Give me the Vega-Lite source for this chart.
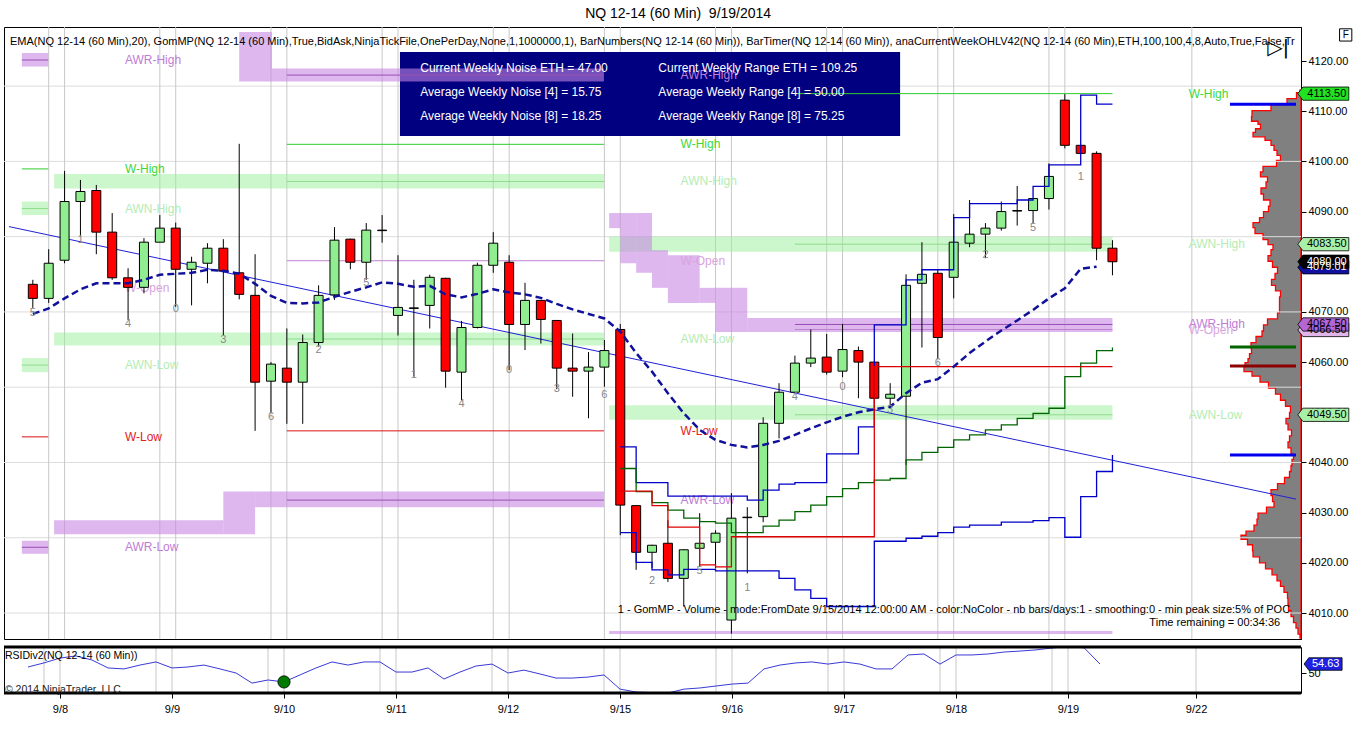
{
  "$schema": "https://vega.github.io/schema/vega-lite/v6.json",
  "background": "white",
  "padding": {"left": 2, "top": 7, "right": 0, "bottom": 0},
  "bounds": "flush",
  "spacing": 8,
  "title": {"text": "NQ 12-14 (60 Min)\u00a0 9/19/2014", "fontSize": 14, "fontWeight": "normal", "color": "black", "offset": 5, "anchor": "middle"},
  "config": {
    "font": "Liberation Sans",
    "view": {"stroke": "black", "strokeWidth": 1}
  },
  "datasets": {
    "bars": [
      {"i": 0, "o": 4075.5, "h": 4076.4, "l": 4070.8, "c": 4072.7},
      {"i": 1, "o": 4072.7, "h": 4082.5, "l": 4071.8, "c": 4079.7},
      {"i": 2, "o": 4080.3, "h": 4098.1, "l": 4079.7, "c": 4092.0},
      {"i": 3, "o": 4092.0, "h": 4096.3, "l": 4085.0, "c": 4094.0},
      {"i": 4, "o": 4094.2, "h": 4095.3, "l": 4081.5, "c": 4085.9},
      {"i": 5, "o": 4085.9, "h": 4089.7, "l": 4076.4, "c": 4076.8},
      {"i": 6, "o": 4076.8, "h": 4078.7, "l": 4068.4, "c": 4074.9},
      {"i": 7, "o": 4074.9, "h": 4084.7, "l": 4073.7, "c": 4083.9},
      {"i": 8, "o": 4083.9, "h": 4089.3, "l": 4083.9, "c": 4086.7},
      {"i": 9, "o": 4086.7, "h": 4087.8, "l": 4071.0, "c": 4078.5},
      {"i": 10, "o": 4078.5, "h": 4081.0, "l": 4071.3, "c": 4079.9},
      {"i": 11, "o": 4079.7, "h": 4083.7, "l": 4075.7, "c": 4082.7},
      {"i": 12, "o": 4082.7, "h": 4084.5, "l": 4065.4, "c": 4078.2},
      {"i": 13, "o": 4077.8, "h": 4103.5, "l": 4072.5, "c": 4073.5},
      {"i": 14, "o": 4073.3, "h": 4081.5, "l": 4046.3, "c": 4056.0},
      {"i": 15, "o": 4056.2, "h": 4060.0, "l": 4049.8, "c": 4059.6},
      {"i": 16, "o": 4058.8, "h": 4066.7, "l": 4047.7, "c": 4056.0},
      {"i": 17, "o": 4056.0, "h": 4065.5, "l": 4047.7, "c": 4063.9},
      {"i": 18, "o": 4063.9, "h": 4075.3, "l": 4063.1, "c": 4073.3},
      {"i": 19, "o": 4073.4, "h": 4086.9, "l": 4072.4, "c": 4084.3},
      {"i": 20, "o": 4084.5, "h": 4084.6, "l": 4078.5, "c": 4079.9},
      {"i": 21, "o": 4079.9, "h": 4087.7, "l": 4076.4, "c": 4086.3},
      {"i": 22, "o": 4086.3, "h": 4089.3, "l": 4083.8, "c": 4086.2},
      {"i": 23, "o": 4069.3, "h": 4081.3, "l": 4065.3, "c": 4070.9},
      {"i": 24, "o": 4070.8, "h": 4076.4, "l": 4057.1, "c": 4070.7},
      {"i": 25, "o": 4071.3, "h": 4077.4, "l": 4066.7, "c": 4076.9},
      {"i": 26, "o": 4076.7, "h": 4076.8, "l": 4054.9, "c": 4058.2},
      {"i": 27, "o": 4058.0, "h": 4068.2, "l": 4052.4, "c": 4066.9},
      {"i": 28, "o": 4066.9, "h": 4079.8, "l": 4066.7, "c": 4079.3},
      {"i": 29, "o": 4079.3, "h": 4085.9, "l": 4077.8, "c": 4083.7},
      {"i": 30, "o": 4079.9, "h": 4081.3, "l": 4058.4, "c": 4067.5},
      {"i": 31, "o": 4067.5, "h": 4075.8, "l": 4062.4, "c": 4072.3},
      {"i": 32, "o": 4072.3, "h": 4072.4, "l": 4063.7, "c": 4068.5},
      {"i": 33, "o": 4068.3, "h": 4068.4, "l": 4054.6, "c": 4058.8},
      {"i": 34, "o": 4058.8, "h": 4065.7, "l": 4053.1, "c": 4058.2},
      {"i": 35, "o": 4058.2, "h": 4062.0, "l": 4048.8, "c": 4059.0},
      {"i": 36, "o": 4059.0, "h": 4064.4, "l": 4055.1, "c": 4062.3},
      {"i": 37, "o": 4066.5, "h": 4067.6, "l": 4025.5, "c": 4031.5},
      {"i": 38, "o": 4031.4, "h": 4031.5, "l": 4018.6, "c": 4022.1},
      {"i": 39, "o": 4022.1, "h": 4023.6, "l": 4019.0, "c": 4023.5},
      {"i": 40, "o": 4023.9, "h": 4028.5, "l": 4016.2, "c": 4016.9},
      {"i": 41, "o": 4016.9, "h": 4022.7, "l": 4011.3, "c": 4022.6},
      {"i": 42, "o": 4022.9, "h": 4029.9, "l": 4019.2, "c": 4023.9},
      {"i": 43, "o": 4024.1, "h": 4026.5, "l": 4018.9, "c": 4025.9},
      {"i": 44, "o": 4008.6, "h": 4033.9, "l": 4005.9, "c": 4028.9},
      {"i": 45, "o": 4029.1, "h": 4031.1, "l": 4017.9, "c": 4029.0},
      {"i": 46, "o": 4029.2, "h": 4049.0, "l": 4028.1, "c": 4047.8},
      {"i": 47, "o": 4047.8, "h": 4055.8, "l": 4044.8, "c": 4054.0},
      {"i": 48, "o": 4054.0, "h": 4061.3, "l": 4054.0, "c": 4059.8},
      {"i": 49, "o": 4059.8, "h": 4066.5, "l": 4059.0, "c": 4060.8},
      {"i": 50, "o": 4061.0, "h": 4065.6, "l": 4057.5, "c": 4058.0},
      {"i": 51, "o": 4058.2, "h": 4067.6, "l": 4057.0, "c": 4062.5},
      {"i": 52, "o": 4062.3, "h": 4063.1, "l": 4052.8, "c": 4060.0},
      {"i": 53, "o": 4060.0, "h": 4060.1, "l": 4052.7, "c": 4052.8},
      {"i": 54, "o": 4052.8, "h": 4055.8, "l": 4050.8, "c": 4053.6},
      {"i": 55, "o": 4053.2, "h": 4077.5, "l": 4039.5, "c": 4075.3},
      {"i": 56, "o": 4075.7, "h": 4083.9, "l": 4062.9, "c": 4077.5},
      {"i": 57, "o": 4077.7, "h": 4078.5, "l": 4060.6, "c": 4064.9},
      {"i": 58, "o": 4076.9, "h": 4089.5, "l": 4072.7, "c": 4083.9},
      {"i": 59, "o": 4083.7, "h": 4092.3, "l": 4082.9, "c": 4085.5},
      {"i": 60, "o": 4085.5, "h": 4087.7, "l": 4080.7, "c": 4086.7},
      {"i": 61, "o": 4086.7, "h": 4092.0, "l": 4086.2, "c": 4090.0},
      {"i": 62, "o": 4090.2, "h": 4095.1, "l": 4087.2, "c": 4090.1},
      {"i": 63, "o": 4090.2, "h": 4092.7, "l": 4087.7, "c": 4092.6},
      {"i": 64, "o": 4092.6, "h": 4099.6, "l": 4090.4, "c": 4097.0},
      {"i": 65, "o": 4112.2, "h": 4113.4, "l": 4102.6, "c": 4103.2},
      {"i": 66, "o": 4103.2, "h": 4103.3, "l": 4101.5, "c": 4101.6},
      {"i": 67, "o": 4101.6, "h": 4102.0, "l": 4080.3, "c": 4082.7},
      {"i": 68, "o": 4082.7, "h": 4084.3, "l": 4077.3, "c": 4080.0}
    ],
    "ema": [
      {"i": 0, "v": 4069.6}, {"i": 1, "v": 4070.7}, {"i": 2, "v": 4072.7}, {"i": 3, "v": 4074.5},
      {"i": 4, "v": 4075.7}, {"i": 5, "v": 4075.7}, {"i": 6, "v": 4075.7}, {"i": 7, "v": 4076.4},
      {"i": 8, "v": 4077.4}, {"i": 9, "v": 4077.6}, {"i": 10, "v": 4077.8}, {"i": 11, "v": 4078.4},
      {"i": 12, "v": 4078.2}, {"i": 13, "v": 4077.6}, {"i": 14, "v": 4075.6}, {"i": 15, "v": 4073.2},
      {"i": 16, "v": 4071.8}, {"i": 17, "v": 4071.7}, {"i": 18, "v": 4071.9}, {"i": 19, "v": 4073.0},
      {"i": 20, "v": 4074.0}, {"i": 21, "v": 4074.9}, {"i": 22, "v": 4075.9}, {"i": 23, "v": 4075.6},
      {"i": 24, "v": 4075.0}, {"i": 25, "v": 4075.2}, {"i": 26, "v": 4073.5}, {"i": 27, "v": 4072.9},
      {"i": 28, "v": 4073.6}, {"i": 29, "v": 4074.5}, {"i": 30, "v": 4073.9}, {"i": 31, "v": 4073.5},
      {"i": 32, "v": 4072.8}, {"i": 33, "v": 4071.6}, {"i": 34, "v": 4070.5}, {"i": 35, "v": 4069.6},
      {"i": 36, "v": 4068.7}, {"i": 37, "v": 4066.1}, {"i": 38, "v": 4061.8}, {"i": 39, "v": 4058.1},
      {"i": 40, "v": 4053.8}, {"i": 41, "v": 4049.8}, {"i": 42, "v": 4046.5}, {"i": 43, "v": 4044.5},
      {"i": 44, "v": 4043.5}, {"i": 45, "v": 4043.0}, {"i": 46, "v": 4043.5}, {"i": 47, "v": 4044.3},
      {"i": 48, "v": 4045.5}, {"i": 49, "v": 4046.8}, {"i": 50, "v": 4048.0}, {"i": 51, "v": 4049.1},
      {"i": 52, "v": 4050.0}, {"i": 53, "v": 4050.6}, {"i": 54, "v": 4051.1}, {"i": 55, "v": 4053.8},
      {"i": 56, "v": 4055.9}, {"i": 57, "v": 4056.6}, {"i": 58, "v": 4059.1}, {"i": 59, "v": 4061.8},
      {"i": 60, "v": 4064.1}, {"i": 61, "v": 4066.3}, {"i": 62, "v": 4068.3}, {"i": 63, "v": 4070.4},
      {"i": 64, "v": 4072.7}, {"i": 65, "v": 4074.7}, {"i": 66, "v": 4078.6}, {"i": 67, "v": 4079.0}
    ],
    "rsi": [
      {"i": 0, "v": 53.1}, {"i": 1, "v": 55.2}, {"i": 2, "v": 57.7}, {"i": 3, "v": 58.8},
      {"i": 4, "v": 56.7}, {"i": 5, "v": 52.6}, {"i": 6, "v": 52.1}, {"i": 7, "v": 54.1},
      {"i": 8, "v": 55.7}, {"i": 9, "v": 52.6}, {"i": 10, "v": 53.1}, {"i": 11, "v": 54.1},
      {"i": 12, "v": 52.1}, {"i": 13, "v": 50.0}, {"i": 14, "v": 44.8}, {"i": 15, "v": 46.4},
      {"i": 16, "v": 45.4}, {"i": 17, "v": 49.0}, {"i": 18, "v": 52.6}, {"i": 19, "v": 55.7},
      {"i": 20, "v": 54.1}, {"i": 21, "v": 55.7}, {"i": 22, "v": 55.7}, {"i": 23, "v": 50.5},
      {"i": 24, "v": 50.5}, {"i": 25, "v": 52.6}, {"i": 26, "v": 46.9}, {"i": 27, "v": 50.5},
      {"i": 28, "v": 53.6}, {"i": 29, "v": 54.6}, {"i": 30, "v": 50.0}, {"i": 31, "v": 51.5},
      {"i": 32, "v": 49.5}, {"i": 33, "v": 47.4}, {"i": 34, "v": 47.4}, {"i": 35, "v": 47.9},
      {"i": 36, "v": 49.0}, {"i": 37, "v": 41.7}, {"i": 38, "v": 40.2}, {"i": 39, "v": 39.9},
      {"i": 40, "v": 39.7}, {"i": 41, "v": 41.7}, {"i": 42, "v": 42.3}, {"i": 43, "v": 43.3},
      {"i": 44, "v": 44.3}, {"i": 45, "v": 44.8}, {"i": 46, "v": 52.1}, {"i": 47, "v": 54.1},
      {"i": 48, "v": 55.2}, {"i": 49, "v": 55.7}, {"i": 50, "v": 54.6}, {"i": 51, "v": 55.7},
      {"i": 52, "v": 54.6}, {"i": 53, "v": 52.1}, {"i": 54, "v": 52.1}, {"i": 55, "v": 59.3},
      {"i": 56, "v": 59.8}, {"i": 57, "v": 54.6}, {"i": 58, "v": 59.3}, {"i": 59, "v": 59.3},
      {"i": 60, "v": 59.8}, {"i": 61, "v": 60.8}, {"i": 62, "v": 61.3}, {"i": 63, "v": 61.9},
      {"i": 64, "v": 62.9}, {"i": 65, "v": 63.6}, {"i": 66, "v": 63.0}, {"i": 67, "v": 54.63}
    ],
    "steps": [
      {"s": "upper", "i": 37, "v": 4043.1}, {"s": "upper", "i": 38, "v": 4036.0}, {"s": "upper", "i": 39, "v": 4036.0},
      {"s": "upper", "i": 40, "v": 4033.3}, {"s": "upper", "i": 41, "v": 4033.3}, {"s": "upper", "i": 42, "v": 4033.3},
      {"s": "upper", "i": 43, "v": 4033.3}, {"s": "upper", "i": 44, "v": 4033.3}, {"s": "upper", "i": 45, "v": 4032.5},
      {"s": "upper", "i": 46, "v": 4034.5}, {"s": "upper", "i": 47, "v": 4035.7}, {"s": "upper", "i": 48, "v": 4036.0},
      {"s": "upper", "i": 49, "v": 4036.0}, {"s": "upper", "i": 50, "v": 4041.7}, {"s": "upper", "i": 51, "v": 4041.7},
      {"s": "upper", "i": 52, "v": 4047.1}, {"s": "upper", "i": 53, "v": 4067.4}, {"s": "upper", "i": 54, "v": 4067.4},
      {"s": "upper", "i": 55, "v": 4076.4}, {"s": "upper", "i": 56, "v": 4078.4}, {"s": "upper", "i": 57, "v": 4078.4},
      {"s": "upper", "i": 58, "v": 4088.8}, {"s": "upper", "i": 59, "v": 4091.6}, {"s": "upper", "i": 60, "v": 4091.6},
      {"s": "upper", "i": 61, "v": 4091.6}, {"s": "upper", "i": 62, "v": 4092.3}, {"s": "upper", "i": 63, "v": 4095.0},
      {"s": "upper", "i": 64, "v": 4099.3}, {"s": "upper", "i": 65, "v": 4099.3}, {"s": "upper", "i": 66, "v": 4113.2},
      {"s": "upper", "i": 67, "v": 4111.4}, {"s": "upper", "i": 68, "v": 4111.4},
      {"s": "lower", "i": 37, "v": 4026.0}, {"s": "lower", "i": 38, "v": 4020.1}, {"s": "lower", "i": 39, "v": 4018.6},
      {"s": "lower", "i": 40, "v": 4017.6}, {"s": "lower", "i": 41, "v": 4018.7}, {"s": "lower", "i": 42, "v": 4018.7},
      {"s": "lower", "i": 43, "v": 4018.4}, {"s": "lower", "i": 44, "v": 4018.4}, {"s": "lower", "i": 45, "v": 4018.4},
      {"s": "lower", "i": 46, "v": 4018.4}, {"s": "lower", "i": 47, "v": 4016.9}, {"s": "lower", "i": 48, "v": 4014.6},
      {"s": "lower", "i": 49, "v": 4012.9}, {"s": "lower", "i": 50, "v": 4011.3}, {"s": "lower", "i": 51, "v": 4011.3},
      {"s": "lower", "i": 52, "v": 4011.3}, {"s": "lower", "i": 53, "v": 4024.3}, {"s": "lower", "i": 54, "v": 4024.3},
      {"s": "lower", "i": 55, "v": 4024.9}, {"s": "lower", "i": 56, "v": 4025.3}, {"s": "lower", "i": 57, "v": 4026.0},
      {"s": "lower", "i": 58, "v": 4027.1}, {"s": "lower", "i": 59, "v": 4027.5}, {"s": "lower", "i": 60, "v": 4027.5},
      {"s": "lower", "i": 61, "v": 4028.1}, {"s": "lower", "i": 62, "v": 4028.1}, {"s": "lower", "i": 63, "v": 4028.4},
      {"s": "lower", "i": 64, "v": 4029.0}, {"s": "lower", "i": 65, "v": 4025.1}, {"s": "lower", "i": 66, "v": 4033.2},
      {"s": "lower", "i": 67, "v": 4038.2}, {"s": "lower", "i": 68, "v": 4041.5},
      {"s": "green", "i": 37, "v": 4038.8}, {"s": "green", "i": 38, "v": 4034.2}, {"s": "green", "i": 39, "v": 4032.0},
      {"s": "green", "i": 40, "v": 4030.5}, {"s": "green", "i": 41, "v": 4028.9}, {"s": "green", "i": 42, "v": 4028.2},
      {"s": "green", "i": 43, "v": 4027.9}, {"s": "green", "i": 44, "v": 4026.0}, {"s": "green", "i": 45, "v": 4026.0},
      {"s": "green", "i": 46, "v": 4027.3}, {"s": "green", "i": 47, "v": 4028.5}, {"s": "green", "i": 48, "v": 4030.2},
      {"s": "green", "i": 49, "v": 4031.5}, {"s": "green", "i": 50, "v": 4033.2}, {"s": "green", "i": 51, "v": 4034.8},
      {"s": "green", "i": 52, "v": 4036.0}, {"s": "green", "i": 53, "v": 4036.5}, {"s": "green", "i": 54, "v": 4036.8},
      {"s": "green", "i": 55, "v": 4040.5}, {"s": "green", "i": 56, "v": 4042.0}, {"s": "green", "i": 57, "v": 4043.0},
      {"s": "green", "i": 58, "v": 4044.5}, {"s": "green", "i": 59, "v": 4045.5}, {"s": "green", "i": 60, "v": 4046.5},
      {"s": "green", "i": 61, "v": 4047.5}, {"s": "green", "i": 62, "v": 4048.8}, {"s": "green", "i": 63, "v": 4049.8},
      {"s": "green", "i": 64, "v": 4050.8}, {"s": "green", "i": 65, "v": 4057.1}, {"s": "green", "i": 66, "v": 4059.8},
      {"s": "green", "i": 67, "v": 4062.3}, {"s": "green", "i": 68, "v": 4062.9},
      {"s": "red", "i": 37, "v": 4034.3}, {"s": "red", "i": 38, "v": 4034.3}, {"s": "red", "i": 39, "v": 4031.4},
      {"s": "red", "i": 40, "v": 4027.1}, {"s": "red", "i": 41, "v": 4027.1}, {"s": "red", "i": 42, "v": 4019.6},
      {"s": "red", "i": 43, "v": 4019.2}, {"s": "red", "i": 44, "v": 4025.2}, {"s": "red", "i": 45, "v": 4025.2},
      {"s": "red", "i": 46, "v": 4025.2}, {"s": "red", "i": 47, "v": 4025.2}, {"s": "red", "i": 48, "v": 4025.2},
      {"s": "red", "i": 49, "v": 4025.2}, {"s": "red", "i": 50, "v": 4025.2}, {"s": "red", "i": 51, "v": 4025.2},
      {"s": "red", "i": 52, "v": 4025.2}, {"s": "red", "i": 53, "v": 4059.1}, {"s": "red", "i": 54, "v": 4059.1},
      {"s": "red", "i": 55, "v": 4059.1}, {"s": "red", "i": 56, "v": 4059.1}, {"s": "red", "i": 57, "v": 4059.1},
      {"s": "red", "i": 58, "v": 4059.1}, {"s": "red", "i": 59, "v": 4059.1}, {"s": "red", "i": 60, "v": 4059.1},
      {"s": "red", "i": 61, "v": 4059.1}, {"s": "red", "i": 62, "v": 4059.1}, {"s": "red", "i": 63, "v": 4059.1},
      {"s": "red", "i": 64, "v": 4059.1}, {"s": "red", "i": 65, "v": 4059.1}, {"s": "red", "i": 66, "v": 4059.1},
      {"s": "red", "i": 67, "v": 4059.1}, {"s": "red", "i": 68, "v": 4059.1}
    ],
    "markers": [
      {"s": "upper", "p": 4111.4}, {"s": "lower", "p": 4041.5}, {"s": "green", "p": 4063.0}, {"s": "red", "p": 4059.2}
    ],
    "hgrid": [
      {"p": 4010}, {"p": 4025}, {"p": 4040}, {"p": 4055}, {"p": 4070}, {"p": 4085}, {"p": 4100}, {"p": 4115}
    ],
    "vgrid": [
      {"i": 1}, {"i": 2}, {"i": 8}, {"i": 9}, {"i": 15}, {"i": 16}, {"i": 22}, {"i": 23}, {"i": 29}, {"i": 30},
      {"i": 36}, {"i": 37}, {"i": 43}, {"i": 44}, {"i": 50}, {"i": 51}, {"i": 57}, {"i": 58}, {"i": 64}, {"i": 65}, {"i": 73}
    ],
    "bands": [
      {"g": "AWN", "x0": -0.69, "x1": 0.97, "top": 4092.0, "bot": 4089.3},
      {"g": "AWN", "x0": -0.69, "x1": 0.97, "top": 4060.8, "bot": 4058.0},
      {"g": "AWN", "x0": 1.34, "x1": 35.97, "top": 4097.5, "bot": 4094.6},
      {"g": "AWN", "x0": 1.34, "x1": 35.97, "top": 4065.9, "bot": 4063.3},
      {"g": "AWN", "x0": 36.3, "x1": 68.0, "top": 4085.0, "bot": 4082.0},
      {"g": "AWN", "x0": 36.3, "x1": 68.0, "top": 4051.4, "bot": 4048.5},
      {"g": "AWR", "x0": -0.69, "x1": 0.97, "top": 4121.6, "bot": 4118.9},
      {"g": "AWR", "x0": -0.69, "x1": 0.97, "top": 4024.4, "bot": 4021.8},
      {"g": "AWR", "x0": 13.0, "x1": 15.06, "top": 4125.8, "bot": 4115.9},
      {"g": "AWR", "x0": 15.06, "x1": 35.97, "top": 4118.5, "bot": 4115.9},
      {"g": "AWR", "x0": 1.34, "x1": 12.0, "top": 4028.5, "bot": 4025.7},
      {"g": "AWR", "x0": 12.0, "x1": 14.0, "top": 4034.2, "bot": 4025.7},
      {"g": "AWR", "x0": 14.0, "x1": 35.97, "top": 4034.2, "bot": 4031.1},
      {"g": "AWR", "x0": 36.3, "x1": 37.0, "top": 4089.7, "bot": 4086.7},
      {"g": "AWR", "x0": 37.0, "x1": 38.0, "top": 4089.7, "bot": 4079.7},
      {"g": "AWR", "x0": 38.0, "x1": 39.0, "top": 4089.7, "bot": 4077.8},
      {"g": "AWR", "x0": 39.0, "x1": 40.0, "top": 4082.3, "bot": 4074.8},
      {"g": "AWR", "x0": 40.0, "x1": 42.0, "top": 4081.3, "bot": 4071.8},
      {"g": "AWR", "x0": 42.0, "x1": 43.0, "top": 4074.8, "bot": 4071.8},
      {"g": "AWR", "x0": 43.0, "x1": 45.0, "top": 4074.8, "bot": 4066.0},
      {"g": "AWR", "x0": 45.0, "x1": 68.0, "top": 4068.8, "bot": 4066.0},
      {"g": "AWR", "x0": 36.3, "x1": 68.0, "top": 4006.4, "bot": 4005.8}
    ],
    "lines": [
      {"k": "AWR", "x0": -0.69, "x1": 0.97, "p": 4120.2},
      {"k": "W-High", "x0": -0.69, "x1": 0.97, "p": 4098.5},
      {"k": "AWN", "x0": -0.69, "x1": 0.97, "p": 4090.6},
      {"k": "AWN", "x0": -0.69, "x1": 0.97, "p": 4059.4},
      {"k": "W-Low", "x0": -0.69, "x1": 0.97, "p": 4045.1},
      {"k": "AWR", "x0": -0.69, "x1": 0.97, "p": 4023.1},
      {"k": "AWR", "x0": 16, "x1": 35.97, "p": 4117.2},
      {"k": "W-High", "x0": 16, "x1": 35.97, "p": 4103.4},
      {"k": "AWN", "x0": 16, "x1": 35.97, "p": 4096.0},
      {"k": "W-Open", "x0": 16, "x1": 35.97, "p": 4080.2},
      {"k": "AWN", "x0": 16, "x1": 35.97, "p": 4064.6},
      {"k": "W-Low", "x0": 16, "x1": 35.97, "p": 4046.3},
      {"k": "AWR", "x0": 16, "x1": 35.97, "p": 4032.5},
      {"k": "W-High", "x0": 48, "x1": 68.0, "p": 4113.5},
      {"k": "AWN", "x0": 48, "x1": 68.0, "p": 4083.5},
      {"k": "AWR", "x0": 48, "x1": 68.0, "p": 4067.5},
      {"k": "W-Open", "x0": 48, "x1": 68.0, "p": 4066.5},
      {"k": "AWN", "x0": 48, "x1": 68.0, "p": 4049.5}
    ],
    "labels": [
      {"k": "AWR-High", "i": 5.8, "p": 4120.2}, {"k": "W-High", "i": 5.8, "p": 4098.5},
      {"k": "AWN-High", "i": 5.8, "p": 4090.6}, {"k": "W-Open", "i": 5.8, "p": 4074.8},
      {"k": "AWN-Low", "i": 5.8, "p": 4059.4}, {"k": "W-Low", "i": 5.8, "p": 4045.1},
      {"k": "AWR-Low", "i": 5.8, "p": 4023.1},
      {"k": "AWR-High", "i": 40.8, "p": 4117.2}, {"k": "W-High", "i": 40.8, "p": 4103.4},
      {"k": "AWN-High", "i": 40.8, "p": 4096.0}, {"k": "W-Open", "i": 40.8, "p": 4080.2},
      {"k": "AWN-Low", "i": 40.8, "p": 4064.6}, {"k": "W-Low", "i": 40.8, "p": 4046.3},
      {"k": "AWR-Low", "i": 40.8, "p": 4032.5},
      {"k": "W-High", "i": 72.8, "p": 4113.5}, {"k": "AWN-High", "i": 72.8, "p": 4083.5},
      {"k": "AWR-High", "i": 72.8, "p": 4067.5}, {"k": "W-Open", "i": 72.8, "p": 4066.3},
      {"k": "AWN-Low", "i": 72.8, "p": 4049.5}
    ],
    "nums": [
      {"i": 0, "p": 4069.8, "n": "5"}, {"i": 3, "p": 4084.3, "n": "1"}, {"i": 6, "p": 4067.6, "n": "4"},
      {"i": 9, "p": 4070.6, "n": "0"}, {"i": 12, "p": 4064.4, "n": "3"}, {"i": 15, "p": 4049.1, "n": "6"},
      {"i": 18, "p": 4062.4, "n": "2"}, {"i": 21, "p": 4075.8, "n": "5"}, {"i": 24, "p": 4057.4, "n": "1"},
      {"i": 27, "p": 4051.6, "n": "4"}, {"i": 30, "p": 4058.4, "n": "0"}, {"i": 33, "p": 4054.6, "n": "3"},
      {"i": 36, "p": 4053.4, "n": "6"}, {"i": 39, "p": 4016.4, "n": "2"}, {"i": 42, "p": 4018.4, "n": "5"},
      {"i": 45, "p": 4015.0, "n": "1"}, {"i": 48, "p": 4053.0, "n": "4"}, {"i": 51, "p": 4055.0, "n": "0"},
      {"i": 54, "p": 4050.4, "n": "3"}, {"i": 57, "p": 4059.8, "n": "6"}, {"i": 60, "p": 4081.3, "n": "2"},
      {"i": 63, "p": 4086.8, "n": "5"}, {"i": 66, "p": 4096.9, "n": "1"}
    ],
    "box": [{"x0": 23.125, "x1": 54.625, "top": 4121.8, "bot": 4105.05}],
    "boxtext": [
      {"i": 24.4, "p": 4118.6, "t": "Current Weekly Noise ETH = 47.00"},
      {"i": 24.4, "p": 4113.8, "t": "Average Weekly Noise [4] = 15.75"},
      {"i": 24.4, "p": 4109.0, "t": "Average Weekly Noise [8] = 18.25"},
      {"i": 39.4, "p": 4118.6, "t": "Current Weekly Range ETH = 109.25"},
      {"i": 39.4, "p": 4113.8, "t": "Average Weekly Range [4] = 50.00"},
      {"i": 39.4, "p": 4109.0, "t": "Average Weekly Range [8] = 75.25"}
    ],
    "trend": [{"i": -1.5, "p": 4087.0}, {"i": 79.56, "p": 4032.7}],
    "tags": [
      {"k": "W-High", "p": 4113.5, "t": "4113.50"},
      {"k": "AWN", "p": 4083.5, "t": "4083.50"},
      {"k": "EMA", "p": 4078.9, "t": "4079.01"},
      {"k": "Last", "p": 4080.0, "t": "4080.00"},
      {"k": "W-Open", "p": 4066.4, "t": "4066.50"},
      {"k": "AWR", "p": 4067.5, "t": "4067.50"},
      {"k": "AWN", "p": 4049.5, "t": "4049.50"}
    ],
    "profile": [
      {"p": 4114.2, "vol": 0}, {"p": 4113.7, "vol": 2}, {"p": 4112.5, "vol": 7}, {"p": 4111.3, "vol": 21},
      {"p": 4110.1, "vol": 39}, {"p": 4108.9, "vol": 59}, {"p": 4108.0, "vol": 40}, {"p": 4107.4, "vol": 46},
      {"p": 4106.5, "vol": 35}, {"p": 4105.8, "vol": 56}, {"p": 4104.9, "vol": 40}, {"p": 4104.2, "vol": 32},
      {"p": 4103.2, "vol": 28}, {"p": 4102.2, "vol": 26}, {"p": 4101.2, "vol": 22}, {"p": 4100.2, "vol": 19},
      {"p": 4099.0, "vol": 30}, {"p": 4097.9, "vol": 46}, {"p": 4096.9, "vol": 35}, {"p": 4095.9, "vol": 32},
      {"p": 4094.7, "vol": 38}, {"p": 4093.5, "vol": 42}, {"p": 4092.3, "vol": 33}, {"p": 4091.1, "vol": 29},
      {"p": 4090.0, "vol": 36}, {"p": 4088.8, "vol": 39}, {"p": 4087.8, "vol": 44}, {"p": 4086.8, "vol": 52},
      {"p": 4085.6, "vol": 40}, {"p": 4084.4, "vol": 36}, {"p": 4083.4, "vol": 30}, {"p": 4082.4, "vol": 26},
      {"p": 4081.2, "vol": 34}, {"p": 4080.1, "vol": 32}, {"p": 4078.9, "vol": 25}, {"p": 4077.7, "vol": 22},
      {"p": 4076.5, "vol": 30}, {"p": 4075.3, "vol": 29}, {"p": 4074.2, "vol": 22}, {"p": 4073.0, "vol": 19},
      {"p": 4071.4, "vol": 24}, {"p": 4069.8, "vol": 19}, {"p": 4068.6, "vol": 28}, {"p": 4067.4, "vol": 39},
      {"p": 4066.2, "vol": 36}, {"p": 4065.1, "vol": 42}, {"p": 4063.9, "vol": 48}, {"p": 4062.7, "vol": 52},
      {"p": 4061.7, "vol": 47}, {"p": 4060.7, "vol": 56}, {"p": 4059.9, "vol": 50}, {"p": 4059.1, "vol": 62},
      {"p": 4058.1, "vol": 52}, {"p": 4057.2, "vol": 46}, {"p": 4056.0, "vol": 36}, {"p": 4054.8, "vol": 29},
      {"p": 4053.6, "vol": 22}, {"p": 4052.4, "vol": 19}, {"p": 4051.2, "vol": 12}, {"p": 4050.0, "vol": 9},
      {"p": 4048.8, "vol": 14}, {"p": 4047.7, "vol": 16}, {"p": 4046.5, "vol": 10}, {"p": 4045.3, "vol": 9},
      {"p": 4044.1, "vol": 14}, {"p": 4042.9, "vol": 12}, {"p": 4041.7, "vol": 8}, {"p": 4040.6, "vol": 7},
      {"p": 4039.4, "vol": 11}, {"p": 4038.2, "vol": 9}, {"p": 4037.0, "vol": 14}, {"p": 4035.8, "vol": 19},
      {"p": 4034.6, "vol": 28}, {"p": 4033.4, "vol": 32}, {"p": 4032.2, "vol": 25}, {"p": 4031.1, "vol": 29},
      {"p": 4029.9, "vol": 40}, {"p": 4028.7, "vol": 46}, {"p": 4027.5, "vol": 42}, {"p": 4026.3, "vol": 52},
      {"p": 4025.5, "vol": 58}, {"p": 4024.7, "vol": 62}, {"p": 4023.6, "vol": 45}, {"p": 4022.4, "vol": 52},
      {"p": 4021.2, "vol": 44}, {"p": 4020.0, "vol": 39}, {"p": 4018.8, "vol": 32}, {"p": 4017.6, "vol": 26},
      {"p": 4016.4, "vol": 22}, {"p": 4015.3, "vol": 19}, {"p": 4014.1, "vol": 15}, {"p": 4012.9, "vol": 12},
      {"p": 4011.7, "vol": 14}, {"p": 4010.5, "vol": 11}, {"p": 4009.3, "vol": 9}, {"p": 4008.1, "vol": 6},
      {"p": 4007.0, "vol": 4}, {"p": 4005.8, "vol": 2}, {"p": 4005.0, "vol": 0}
    ]
  },
  "vconcat": [
    {
      "width": 1297,
      "height": 612,
      "resolve": {"scale": {"x": "independent"}},
      "layer": [
        {
          "data": {"name": "profile"},
          "mark": {"type": "area", "orient": "horizontal", "interpolate": "step", "fill": "#808080", "stroke": "#FF0000", "strokeWidth": 1.3},
          "encoding": {
            "y": {"field": "p", "type": "quantitative", "scale": {"domain": [4004.82, 4126.78], "nice": false, "zero": false}},
            "x": {"field": "vol", "type": "quantitative", "scale": {"domain": [0, 1297], "reverse": true, "nice": false}, "axis": null}
          }
        },
        {
          "resolve": {"scale": {"color": "independent", "stroke": "independent", "fill": "independent"}},
          "layer": [
            {
              "data": {"name": "hgrid"},
              "mark": {"type": "rule", "color": "#DCDCDC", "strokeWidth": 1},
              "encoding": {
                "y": {"field": "p", "type": "quantitative",
                  "scale": {"domain": [4004.82, 4126.78], "nice": false, "zero": false},
                  "axis": {"orient": "right", "title": null, "grid": false, "format": ".2f",
                    "values": [4010, 4015, 4020, 4025, 4030, 4035, 4040, 4045, 4050, 4055, 4060, 4065, 4070, 4075, 4080, 4085, 4090, 4095, 4100, 4105, 4110, 4115, 4120],
                    "tickSize": 5, "tickColor": "black", "domainColor": "black", "labelColor": "black", "labelFontSize": 11, "labelPadding": 2}}
              }
            },
            {
              "data": {"name": "vgrid"},
              "mark": {"type": "rule", "color": "#C8C8C8", "strokeWidth": 1},
              "encoding": {
                "x": {"field": "i", "type": "quantitative", "scale": {"domain": [-1.5, 79.56], "nice": false, "zero": false}, "axis": null}
              }
            },
            {
              "data": {"name": "box"},
              "mark": {"type": "rect", "fill": "#000080"},
              "encoding": {
                "x": {"field": "x0", "type": "quantitative", "axis": null},
                "x2": {"field": "x1"},
                "y": {"field": "top", "type": "quantitative"},
                "y2": {"field": "bot"}
              }
            },
            {
              "data": {"name": "bands"},
              "transform": [{"filter": "datum.g === 'AWN'"}],
              "mark": {"type": "rect", "fill": "#99EF99", "opacity": 0.5},
              "encoding": {
                "x": {"field": "x0", "type": "quantitative", "axis": null},
                "x2": {"field": "x1"},
                "y": {"field": "top", "type": "quantitative"},
                "y2": {"field": "bot"}
              }
            },
            {
              "data": {"name": "bands"},
              "transform": [{"filter": "datum.g === 'AWR'"}],
              "mark": {"type": "rect", "fill": "#C687E3", "opacity": 0.6},
              "encoding": {
                "x": {"field": "x0", "type": "quantitative", "axis": null},
                "x2": {"field": "x1"},
                "y": {"field": "top", "type": "quantitative"},
                "y2": {"field": "bot"}
              }
            },
            {
              "data": {"name": "lines"},
              "mark": {"type": "rule", "strokeWidth": 1},
              "encoding": {
                "x": {"field": "x0", "type": "quantitative", "axis": null},
                "x2": {"field": "x1"},
                "y": {"field": "p", "type": "quantitative"},
                "stroke": {"field": "k", "type": "nominal", "legend": null,
                  "scale": {"domain": ["W-High", "W-Low", "W-Open", "AWR", "AWN"], "range": ["#2ECC2E", "#DD1111", "#C080D0", "#9A4FB5", "#8FDB8F"]}}
              }
            },
            {
              "data": {"name": "labels"},
              "mark": {"type": "text", "align": "left", "baseline": "middle", "fontSize": 12},
              "encoding": {
                "x": {"field": "i", "type": "quantitative", "axis": null},
                "y": {"field": "p", "type": "quantitative"},
                "text": {"field": "k"},
                "color": {"field": "k", "type": "nominal", "legend": null,
                  "scale": {"domain": ["AWR-High", "W-High", "AWN-High", "W-Open", "AWN-Low", "W-Low", "AWR-Low"],
                    "range": ["#C07CD6", "#3CD83C", "#B4ECB4", "#D9A3E0", "#B4ECB4", "#E32222", "#C07CD6"]}}
              }
            },
            {
              "data": {"name": "trend"},
              "mark": {"type": "line", "color": "#2020D8", "strokeWidth": 1},
              "encoding": {
                "x": {"field": "i", "type": "quantitative", "axis": null},
                "y": {"field": "p", "type": "quantitative"}
              }
            },
            {
              "data": {"name": "bars"},
              "mark": {"type": "rule", "color": "black", "strokeWidth": 1},
              "encoding": {
                "x": {"field": "i", "type": "quantitative", "axis": null},
                "y": {"field": "l", "type": "quantitative"},
                "y2": {"field": "h"}
              }
            },
            {
              "data": {"name": "bars"},
              "mark": {"type": "bar", "width": 9, "stroke": "black", "strokeWidth": 1},
              "encoding": {
                "x": {"field": "i", "type": "quantitative", "axis": null},
                "y": {"field": "o", "type": "quantitative"},
                "y2": {"field": "c"},
                "fill": {"condition": [
                  {"test": "abs(datum.c - datum.o) < 0.15", "value": "black"},
                  {"test": "datum.c > datum.o", "value": "#90EE90"}], "value": "#FF0000"}
              }
            },
            {
              "data": {"name": "steps"},
              "mark": {"type": "line", "interpolate": "step-after", "strokeWidth": 1.3},
              "encoding": {
                "x": {"field": "i", "type": "quantitative", "axis": null},
                "y": {"field": "v", "type": "quantitative"},
                "detail": {"field": "s"},
                "stroke": {"field": "s", "type": "nominal", "legend": null,
                  "scale": {"domain": ["upper", "lower", "green", "red"], "range": ["#0000C8", "#0000C8", "#006400", "#DD0000"]}}
              }
            },
            {
              "data": {"name": "markers"},
              "mark": {"type": "rule", "strokeWidth": 3},
              "encoding": {
                "x": {"datum": 75.4, "type": "quantitative", "axis": null},
                "x2": {"datum": 79.56},
                "y": {"field": "p", "type": "quantitative"},
                "stroke": {"field": "s", "type": "nominal", "legend": null,
                  "scale": {"domain": ["upper", "lower", "green", "red"], "range": ["#0000EE", "#0000EE", "#006400", "#8B0000"]}}
              }
            },
            {
              "data": {"name": "ema"},
              "mark": {"type": "line", "color": "#10109A", "strokeWidth": 2.5, "strokeDash": [7, 4]},
              "encoding": {
                "x": {"field": "i", "type": "quantitative", "axis": null},
                "y": {"field": "v", "type": "quantitative"}
              }
            },
            {
              "data": {"name": "nums"},
              "mark": {"type": "text", "fontSize": 11, "color": "#888888", "baseline": "middle", "align": "center"},
              "encoding": {
                "x": {"field": "i", "type": "quantitative", "axis": null},
                "y": {"field": "p", "type": "quantitative"},
                "text": {"field": "n"}
              }
            },
            {
              "data": {"name": "boxtext"},
              "mark": {"type": "text", "fontSize": 12, "color": "white", "align": "left", "baseline": "middle"},
              "encoding": {
                "x": {"field": "i", "type": "quantitative", "axis": null},
                "y": {"field": "p", "type": "quantitative"},
                "text": {"field": "t"}
              }
            },
            {
              "data": {"values": [{}]},
              "mark": {"type": "text", "fontSize": 11, "color": "black", "align": "left", "baseline": "middle"},
              "encoding": {
                "x": {"datum": -1.44, "type": "quantitative", "axis": null},
                "y": {"datum": 4123.8, "type": "quantitative"},
                "text": {"value": "EMA(NQ 12-14 (60 Min),20), GomMP(NQ 12-14 (60 Min),True,BidAsk,NinjaTickFile,OnePerDay,None,1,1000000,1), BarNumbers(NQ 12-14 (60 Min)), BarTimer(NQ 12-14 (60 Min)), anaCurrentWeekOHLV42(NQ 12-14 (60 Min),ETH,100,100,4,8,Auto,True,False,Tr"}
              }
            },
            {
              "data": {"values": [{}]},
              "mark": {"type": "text", "fontSize": 11, "color": "black", "align": "right", "baseline": "middle"},
              "encoding": {
                "x": {"datum": 79.19, "type": "quantitative", "axis": null},
                "y": {"datum": 4010.6, "type": "quantitative"},
                "text": {"value": "1 - GomMP  - Volume - mode:FromDate 9/15/2014 12:00:00 AM - color:NoColor - nb bars/days:1 - smoothing:0 - min peak size:5% of POC"}
              }
            },
            {
              "data": {"values": [{}]},
              "mark": {"type": "text", "fontSize": 11, "color": "black", "align": "right", "baseline": "middle"},
              "encoding": {
                "x": {"datum": 78.56, "type": "quantitative", "axis": null},
                "y": {"datum": 4008.0, "type": "quantitative"},
                "text": {"value": "Time remaining = 00:34:36"}
              }
            },
            {
              "data": {"values": [{}]},
              "mark": {"type": "text", "fontSize": 20, "color": "black", "align": "center", "baseline": "middle", "font": "DejaVu Sans"},
              "encoding": {
                "x": {"datum": 78.44, "type": "quantitative", "axis": null},
                "y": {"datum": 4122.6, "type": "quantitative"},
                "text": {"value": "▷|"}
              }
            },
            {
              "data": {"values": [{}]},
              "mark": {"type": "point", "shape": "square", "size": 150, "filled": false, "stroke": "black", "strokeWidth": 1, "opacity": 1},
              "encoding": {
                "x": {"datum": 82.69, "type": "quantitative", "axis": null},
                "y": {"datum": 4125.2, "type": "quantitative"}
              }
            },
            {
              "data": {"values": [{}]},
              "mark": {"type": "text", "fontSize": 10, "color": "black", "align": "center", "baseline": "middle"},
              "encoding": {
                "x": {"datum": 82.69, "type": "quantitative", "axis": null},
                "y": {"datum": 4125.2, "type": "quantitative"},
                "text": {"value": "F"}
              }
            },
            {
              "data": {"name": "tags"},
              "mark": {"type": "point", "shape": "M-1,0L-0.8,-0.26L1,-0.26L1,0.26L-0.8,0.26Z", "size": 2601, "filled": true, "stroke": "black", "strokeWidth": 0.8, "opacity": 1},
              "encoding": {
                "x": {"datum": 81.28, "type": "quantitative", "axis": null},
                "y": {"field": "p", "type": "quantitative"},
                "fill": {"field": "k", "type": "nominal", "legend": null,
                  "scale": {"domain": ["W-High", "AWN", "EMA", "Last", "W-Open", "AWR"], "range": ["#22E022", "#A8F0A8", "#1010A0", "#000000", "#E2B5EA", "#B565D4"]}}
              }
            },
            {
              "data": {"name": "tags"},
              "mark": {"type": "text", "fontSize": 11, "align": "center", "baseline": "middle"},
              "encoding": {
                "x": {"datum": 81.5, "type": "quantitative", "axis": null},
                "y": {"field": "p", "type": "quantitative"},
                "text": {"field": "t"},
                "color": {"condition": {"test": "datum.k === 'Last' || datum.k === 'EMA'", "value": "white"}, "value": "black"}
              }
            }
          ]
        }
      ]
    },
    {
      "width": 1297,
      "height": 46,
      "layer": [
        {
          "data": {"name": "vgrid"},
          "mark": {"type": "rule", "color": "#C8C8C8", "strokeWidth": 1},
          "encoding": {
            "x": {"field": "i", "type": "quantitative",
              "scale": {"domain": [-1.5, 79.56], "nice": false, "zero": false},
              "axis": {"title": null, "grid": false, "domain": false,
                "values": [2, 9, 16, 23, 30, 37, 44, 51, 58, 65, 73],
                "labelExpr": "['9/8','9/9','9/10','9/11','9/12','9/15','9/16','9/17','9/18','9/19','9/22'][indexof([2,9,16,23,30,37,44,51,58,65,73], datum.value)]",
                "tickSize": 5, "tickColor": "black", "labelColor": "black", "labelFontSize": 11, "labelPadding": 5}}
          }
        },
        {
          "data": {"name": "rsi"},
          "mark": {"type": "line", "color": "#3A3AD6", "strokeWidth": 1, "clip": true},
          "encoding": {
            "x": {"field": "i", "type": "quantitative"},
            "y": {"field": "v", "type": "quantitative",
              "scale": {"domain": [39.7, 63.4], "nice": false, "zero": false},
              "axis": {"orient": "right", "title": null, "grid": false, "values": [50], "tickSize": 5, "tickColor": "black", "domain": false, "labelColor": "black", "labelFontSize": 11, "labelPadding": 2}}
          }
        },
        {
          "data": {"values": [{"i": 16, "v": 45.4}]},
          "mark": {"type": "point", "filled": true, "color": "#007A00", "stroke": "black", "strokeWidth": 0.8, "size": 150, "opacity": 1},
          "encoding": {
            "x": {"field": "i", "type": "quantitative"},
            "y": {"field": "v", "type": "quantitative"}
          }
        },
        {
          "data": {"values": [{"v": 63.4}, {"v": 39.7}]},
          "mark": {"type": "rule", "color": "black", "strokeWidth": 3},
          "encoding": {
            "y": {"field": "v", "type": "quantitative"}
          }
        },
        {
          "data": {"values": [{}]},
          "mark": {"type": "text", "fontSize": 10.5, "color": "black", "align": "left", "baseline": "middle"},
          "encoding": {
            "x": {"datum": -1.44, "type": "quantitative"},
            "y": {"datum": 58.6, "type": "quantitative"},
            "text": {"value": "RSIDiv2(NQ 12-14 (60 Min))"}
          }
        },
        {
          "data": {"values": [{}]},
          "mark": {"type": "text", "fontSize": 10.5, "color": "#222222", "align": "left", "baseline": "middle"},
          "encoding": {
            "x": {"datum": -1.44, "type": "quantitative"},
            "y": {"datum": 41.2, "type": "quantitative"},
            "text": {"value": "© 2014 NinjaTrader, LLC"}
          }
        },
        {
          "data": {"values": [{"v": 54.63}]},
          "mark": {"type": "point", "shape": "M-1,0L-0.75,-0.33L1,-0.33L1,0.33L-0.75,0.33Z", "size": 1444, "filled": true, "color": "#2020E0", "stroke": "black", "strokeWidth": 0.8, "opacity": 1},
          "encoding": {
            "x": {"datum": 80.94, "type": "quantitative"},
            "y": {"field": "v", "type": "quantitative"}
          }
        },
        {
          "data": {"values": [{"v": 54.63}]},
          "mark": {"type": "text", "fontSize": 11, "color": "white", "align": "center", "baseline": "middle"},
          "encoding": {
            "x": {"datum": 81.1, "type": "quantitative"},
            "y": {"field": "v", "type": "quantitative"},
            "text": {"field": "v", "format": ".2f"}
          }
        }
      ]
    }
  ],
  "resolve": {"scale": {"x": "independent", "y": "independent"}}
}
